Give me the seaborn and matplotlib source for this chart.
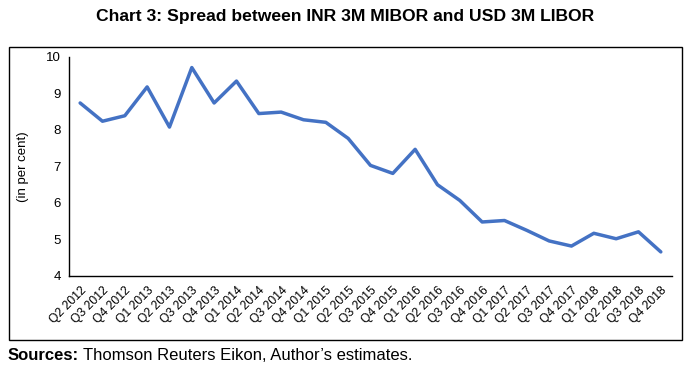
import matplotlib.pyplot as plt
import matplotlib.patches as mpatches
import seaborn as sns
import pandas as pd

quarters = ['Q2 2012', 'Q3 2012', 'Q4 2012', 'Q1 2013', 'Q2 2013', 'Q3 2013', 'Q4 2013',
            'Q1 2014', 'Q2 2014', 'Q3 2014', 'Q4 2014', 'Q1 2015', 'Q2 2015', 'Q3 2015',
            'Q4 2015', 'Q1 2016', 'Q2 2016', 'Q3 2016', 'Q4 2016', 'Q1 2017', 'Q2 2017',
            'Q3 2017', 'Q4 2017', 'Q1 2018', 'Q2 2018', 'Q3 2018', 'Q4 2018']
spread = [8.74, 8.24, 8.39, 9.18, 8.08, 9.71, 8.74, 9.34, 8.45, 8.49, 8.28, 8.21, 7.77,
          7.03, 6.81, 7.47, 6.50, 6.07, 5.48, 5.52, 5.25, 4.96, 4.82, 5.17, 5.02, 5.21, 4.66]
y_ticks = [4, 5, 6, 7, 8, 9, 10]

df = pd.DataFrame({'Quarter': quarters, 'Spread': spread})

sns.set_theme(style="white")
plt.rcParams['font.family'] = ['Liberation Sans', 'DejaVu Sans']
plt.rcParams['text.color'] = 'black'

fig = plt.figure(figsize=(6.89, 3.71), dpi=100)
ax = fig.add_axes([0.1001, 0.2561, 0.8752, 0.5903])

# spread line
sns.lineplot(data=df, x='Quarter', y='Spread', color='#4472C4', linewidth=2.5,
             sort=False, ax=ax)

ax.set_ylim(4, 10)
ax.set_xlim(-0.5, len(quarters) - 0.5)
ax.set_yticks(y_ticks)
ax.set_yticklabels([str(t) for t in y_ticks], fontsize=9.5)
ax.set_xticks(range(len(quarters)))
ax.set_xticklabels(quarters, rotation=45, ha='right', rotation_mode='anchor', fontsize=8.7)
ax.tick_params(axis='both', length=0, pad=6, colors='black')
ax.set_xlabel('')
ax.set_ylabel('(in per cent)', fontsize=9.5, color='black', labelpad=12)

for side in ['top', 'right']:
    ax.spines[side].set_visible(False)
for side in ['left', 'bottom']:
    ax.spines[side].set_color('black')
    ax.spines[side].set_linewidth(1.0)

# outer chart border
border = mpatches.Rectangle((9 / 689, 1 - 340 / 371), 673 / 689, 293 / 371,
                            transform=fig.transFigure, fill=False,
                            edgecolor='black', linewidth=1.0)
fig.patches.append(border)

fig.text(345 / 689, 1 - 17 / 371, 'Chart 3: Spread between INR 3M MIBOR and USD 3M LIBOR',
         ha='center', va='center', fontsize=12.6, fontweight='bold', color='black')

t = fig.text(8 / 689, 1 - 356 / 371, 'Sources:', ha='left', va='center',
             fontsize=12, fontweight='bold', color='black')
fig.canvas.draw()
bb = t.get_window_extent()
fig.text(bb.x1 / fig.bbox.width + 0.005, 1 - 356 / 371,
         "Thomson Reuters Eikon, Author\u2019s estimates.",
         ha='left', va='center', fontsize=12, color='black')

fig.savefig('out.png', dpi=100)
